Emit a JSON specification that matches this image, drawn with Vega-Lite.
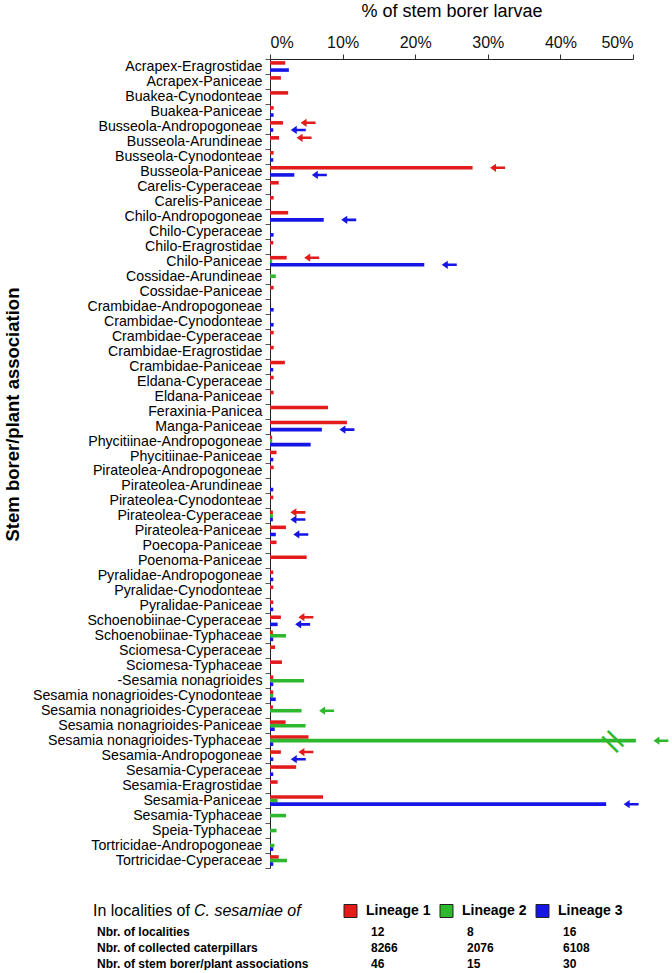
{
  "$schema": "https://vega.github.io/schema/vega-lite/v6.json",
  "padding": {"left": 3, "top": 2, "right": 0, "bottom": 0},
  "bounds": "flush",
  "spacing": 48,
  "config": {"view": {"stroke": null}, "font": "Liberation Sans"},
  "datasets": {
    "bars": [
      {"assoc": "Acrapex-Eragrostidae", "lineage": "Lineage 1", "pct": 2.1},
      {"assoc": "Acrapex-Eragrostidae", "lineage": "Lineage 3", "pct": 2.6},
      {"assoc": "Acrapex-Paniceae", "lineage": "Lineage 1", "pct": 1.5},
      {"assoc": "Buakea-Cynodonteae", "lineage": "Lineage 1", "pct": 2.5},
      {"assoc": "Buakea-Paniceae", "lineage": "Lineage 1", "pct": 0.5},
      {"assoc": "Buakea-Paniceae", "lineage": "Lineage 3", "pct": 0.5},
      {"assoc": "Busseola-Andropogoneae", "lineage": "Lineage 1", "pct": 1.8, "sig": true},
      {"assoc": "Busseola-Andropogoneae", "lineage": "Lineage 3", "pct": 0.45, "sig": true},
      {"assoc": "Busseola-Arundineae", "lineage": "Lineage 1", "pct": 1.25, "sig": true},
      {"assoc": "Busseola-Cynodonteae", "lineage": "Lineage 1", "pct": 0.5},
      {"assoc": "Busseola-Cynodonteae", "lineage": "Lineage 3", "pct": 0.45},
      {"assoc": "Busseola-Paniceae", "lineage": "Lineage 1", "pct": 27.9, "sig": true},
      {"assoc": "Busseola-Paniceae", "lineage": "Lineage 3", "pct": 3.35, "sig": true},
      {"assoc": "Carelis-Cyperaceae", "lineage": "Lineage 1", "pct": 1.2},
      {"assoc": "Carelis-Paniceae", "lineage": "Lineage 1", "pct": 0.5},
      {"assoc": "Chilo-Andropogoneae", "lineage": "Lineage 1", "pct": 2.5},
      {"assoc": "Chilo-Andropogoneae", "lineage": "Lineage 3", "pct": 7.4, "sig": true},
      {"assoc": "Chilo-Cyperaceae", "lineage": "Lineage 3", "pct": 0.5},
      {"assoc": "Chilo-Eragrostidae", "lineage": "Lineage 1", "pct": 0.45},
      {"assoc": "Chilo-Paniceae", "lineage": "Lineage 1", "pct": 2.3, "sig": true},
      {"assoc": "Chilo-Paniceae", "lineage": "Lineage 2", "pct": 0.3},
      {"assoc": "Chilo-Paniceae", "lineage": "Lineage 3", "pct": 21.25, "sig": true},
      {"assoc": "Cossidae-Arundineae", "lineage": "Lineage 2", "pct": 0.8},
      {"assoc": "Cossidae-Paniceae", "lineage": "Lineage 1", "pct": 0.5},
      {"assoc": "Crambidae-Andropogoneae", "lineage": "Lineage 3", "pct": 0.5},
      {"assoc": "Crambidae-Cynodonteae", "lineage": "Lineage 3", "pct": 0.5},
      {"assoc": "Crambidae-Cyperaceae", "lineage": "Lineage 1", "pct": 0.5},
      {"assoc": "Crambidae-Eragrostidae", "lineage": "Lineage 1", "pct": 0.5},
      {"assoc": "Crambidae-Paniceae", "lineage": "Lineage 1", "pct": 2.05},
      {"assoc": "Crambidae-Paniceae", "lineage": "Lineage 3", "pct": 0.45},
      {"assoc": "Eldana-Cyperaceae", "lineage": "Lineage 1", "pct": 0.5},
      {"assoc": "Eldana-Paniceae", "lineage": "Lineage 1", "pct": 0.5},
      {"assoc": "Feraxinia-Panicea", "lineage": "Lineage 1", "pct": 8.0},
      {"assoc": "Manga-Paniceae", "lineage": "Lineage 1", "pct": 10.6},
      {"assoc": "Manga-Paniceae", "lineage": "Lineage 3", "pct": 7.15, "sig": true},
      {"assoc": "Phycitiinae-Andropogoneae", "lineage": "Lineage 1", "pct": 0.3},
      {"assoc": "Phycitiinae-Andropogoneae", "lineage": "Lineage 2", "pct": 0.3},
      {"assoc": "Phycitiinae-Andropogoneae", "lineage": "Lineage 3", "pct": 5.6},
      {"assoc": "Phycitiinae-Paniceae", "lineage": "Lineage 1", "pct": 0.9},
      {"assoc": "Phycitiinae-Paniceae", "lineage": "Lineage 3", "pct": 0.45},
      {"assoc": "Pirateolea-Andropogoneae", "lineage": "Lineage 1", "pct": 0.5},
      {"assoc": "Pirateolea-Arundineae", "lineage": "Lineage 3", "pct": 0.45},
      {"assoc": "Pirateolea-Cynodonteae", "lineage": "Lineage 1", "pct": 0.45},
      {"assoc": "Pirateolea-Cyperaceae", "lineage": "Lineage 1", "pct": 0.4, "sig": true},
      {"assoc": "Pirateolea-Cyperaceae", "lineage": "Lineage 2", "pct": 0.4},
      {"assoc": "Pirateolea-Cyperaceae", "lineage": "Lineage 3", "pct": 0.4, "sig": true},
      {"assoc": "Pirateolea-Paniceae", "lineage": "Lineage 1", "pct": 2.2},
      {"assoc": "Pirateolea-Paniceae", "lineage": "Lineage 3", "pct": 0.8, "sig": true},
      {"assoc": "Poecopa-Paniceae", "lineage": "Lineage 1", "pct": 0.9},
      {"assoc": "Poenoma-Paniceae", "lineage": "Lineage 1", "pct": 5.05},
      {"assoc": "Pyralidae-Andropogoneae", "lineage": "Lineage 1", "pct": 0.45},
      {"assoc": "Pyralidae-Andropogoneae", "lineage": "Lineage 3", "pct": 0.45},
      {"assoc": "Pyralidae-Cynodonteae", "lineage": "Lineage 1", "pct": 0.45},
      {"assoc": "Pyralidae-Paniceae", "lineage": "Lineage 1", "pct": 0.45},
      {"assoc": "Pyralidae-Paniceae", "lineage": "Lineage 3", "pct": 0.45},
      {"assoc": "Schoenobiinae-Cyperaceae", "lineage": "Lineage 1", "pct": 1.5, "sig": true},
      {"assoc": "Schoenobiinae-Cyperaceae", "lineage": "Lineage 3", "pct": 1.05, "sig": true},
      {"assoc": "Schoenobiinae-Typhaceae", "lineage": "Lineage 1", "pct": 0.4},
      {"assoc": "Schoenobiinae-Typhaceae", "lineage": "Lineage 2", "pct": 2.2},
      {"assoc": "Schoenobiinae-Typhaceae", "lineage": "Lineage 3", "pct": 0.45},
      {"assoc": "Sciomesa-Cyperaceae", "lineage": "Lineage 1", "pct": 0.7},
      {"assoc": "Sciomesa-Typhaceae", "lineage": "Lineage 1", "pct": 1.65},
      {"assoc": "-Sesamia nonagrioides", "lineage": "Lineage 1", "pct": 0.45},
      {"assoc": "-Sesamia nonagrioides", "lineage": "Lineage 2", "pct": 4.7},
      {"assoc": "-Sesamia nonagrioides", "lineage": "Lineage 3", "pct": 0.45},
      {"assoc": "Sesamia nonagrioides-Cynodonteae", "lineage": "Lineage 1", "pct": 0.45},
      {"assoc": "Sesamia nonagrioides-Cynodonteae", "lineage": "Lineage 2", "pct": 0.45},
      {"assoc": "Sesamia nonagrioides-Cynodonteae", "lineage": "Lineage 3", "pct": 0.8},
      {"assoc": "Sesamia nonagrioides-Cyperaceae", "lineage": "Lineage 1", "pct": 0.4},
      {"assoc": "Sesamia nonagrioides-Cyperaceae", "lineage": "Lineage 2", "pct": 4.35, "sig": true},
      {"assoc": "Sesamia nonagrioides-Paniceae", "lineage": "Lineage 1", "pct": 2.15},
      {"assoc": "Sesamia nonagrioides-Paniceae", "lineage": "Lineage 2", "pct": 4.9},
      {"assoc": "Sesamia nonagrioides-Paniceae", "lineage": "Lineage 3", "pct": 0.65},
      {"assoc": "Sesamia nonagrioides-Typhaceae", "lineage": "Lineage 1", "pct": 5.3},
      {"assoc": "Sesamia nonagrioides-Typhaceae", "lineage": "Lineage 2", "pct": 50.4, "sig": true, "brk": true},
      {"assoc": "Sesamia nonagrioides-Typhaceae", "lineage": "Lineage 3", "pct": 0.45},
      {"assoc": "Sesamia-Andropogoneae", "lineage": "Lineage 1", "pct": 1.5, "sig": true},
      {"assoc": "Sesamia-Andropogoneae", "lineage": "Lineage 3", "pct": 0.45, "sig": true},
      {"assoc": "Sesamia-Cyperaceae", "lineage": "Lineage 1", "pct": 3.6},
      {"assoc": "Sesamia-Cyperaceae", "lineage": "Lineage 3", "pct": 0.45},
      {"assoc": "Sesamia-Eragrostidae", "lineage": "Lineage 1", "pct": 1.05},
      {"assoc": "Sesamia-Paniceae", "lineage": "Lineage 1", "pct": 7.3},
      {"assoc": "Sesamia-Paniceae", "lineage": "Lineage 2", "pct": 1.05},
      {"assoc": "Sesamia-Paniceae", "lineage": "Lineage 3", "pct": 46.3, "sig": true},
      {"assoc": "Sesamia-Typhaceae", "lineage": "Lineage 2", "pct": 2.2},
      {"assoc": "Speia-Typhaceae", "lineage": "Lineage 2", "pct": 0.9},
      {"assoc": "Tortricidae-Andropogoneae", "lineage": "Lineage 2", "pct": 0.6},
      {"assoc": "Tortricidae-Andropogoneae", "lineage": "Lineage 3", "pct": 0.45},
      {"assoc": "Tortricidae-Cyperaceae", "lineage": "Lineage 1", "pct": 1.2},
      {"assoc": "Tortricidae-Cyperaceae", "lineage": "Lineage 2", "pct": 2.35},
      {"assoc": "Tortricidae-Cyperaceae", "lineage": "Lineage 3", "pct": 0.45}
    ],
    "table": [
      {"row": "head", "col": "label", "text": "In localities of", "kind": "title"},
      {"row": "head", "col": "label", "text": "C. sesamiae of", "kind": "italic"},
      {"row": "head", "col": "Lineage 1", "text": "Lineage 1", "kind": "legend"},
      {"row": "head", "col": "Lineage 2", "text": "Lineage 2", "kind": "legend"},
      {"row": "head", "col": "Lineage 3", "text": "Lineage 3", "kind": "legend"},
      {"row": "Nbr. of localities", "col": "label", "text": "Nbr. of localities", "kind": "rowlabel"},
      {"row": "Nbr. of collected caterpillars", "col": "label", "text": "Nbr. of collected caterpillars", "kind": "rowlabel"},
      {"row": "Nbr. of stem borer/plant associations", "col": "label", "text": "Nbr. of stem borer/plant associations", "kind": "rowlabel"},
      {"row": "Nbr. of localities", "col": "Lineage 1", "text": "12", "kind": "value"},
      {"row": "Nbr. of localities", "col": "Lineage 2", "text": "8", "kind": "value"},
      {"row": "Nbr. of localities", "col": "Lineage 3", "text": "16", "kind": "value"},
      {"row": "Nbr. of collected caterpillars", "col": "Lineage 1", "text": "8266", "kind": "value"},
      {"row": "Nbr. of collected caterpillars", "col": "Lineage 2", "text": "2076", "kind": "value"},
      {"row": "Nbr. of collected caterpillars", "col": "Lineage 3", "text": "6108", "kind": "value"},
      {"row": "Nbr. of stem borer/plant associations", "col": "Lineage 1", "text": "46", "kind": "value"},
      {"row": "Nbr. of stem borer/plant associations", "col": "Lineage 2", "text": "15", "kind": "value"},
      {"row": "Nbr. of stem borer/plant associations", "col": "Lineage 3", "text": "30", "kind": "value"}
    ]
  },
  "vconcat": [
    {
      "width": 363,
      "height": 809,
      "data": {"name": "bars"},
      "encoding": {
        "y": {
          "field": "assoc", "type": "nominal",
          "scale": {"paddingInner": 0, "paddingOuter": 0, "domain": ["Acrapex-Eragrostidae","Acrapex-Paniceae","Buakea-Cynodonteae","Buakea-Paniceae","Busseola-Andropogoneae","Busseola-Arundineae","Busseola-Cynodonteae","Busseola-Paniceae","Carelis-Cyperaceae","Carelis-Paniceae","Chilo-Andropogoneae","Chilo-Cyperaceae","Chilo-Eragrostidae","Chilo-Paniceae","Cossidae-Arundineae","Cossidae-Paniceae","Crambidae-Andropogoneae","Crambidae-Cynodonteae","Crambidae-Cyperaceae","Crambidae-Eragrostidae","Crambidae-Paniceae","Eldana-Cyperaceae","Eldana-Paniceae","Feraxinia-Panicea","Manga-Paniceae","Phycitiinae-Andropogoneae","Phycitiinae-Paniceae","Pirateolea-Andropogoneae","Pirateolea-Arundineae","Pirateolea-Cynodonteae","Pirateolea-Cyperaceae","Pirateolea-Paniceae","Poecopa-Paniceae","Poenoma-Paniceae","Pyralidae-Andropogoneae","Pyralidae-Cynodonteae","Pyralidae-Paniceae","Schoenobiinae-Cyperaceae","Schoenobiinae-Typhaceae","Sciomesa-Cyperaceae","Sciomesa-Typhaceae","-Sesamia nonagrioides","Sesamia nonagrioides-Cynodonteae","Sesamia nonagrioides-Cyperaceae","Sesamia nonagrioides-Paniceae","Sesamia nonagrioides-Typhaceae","Sesamia-Andropogoneae","Sesamia-Cyperaceae","Sesamia-Eragrostidae","Sesamia-Paniceae","Sesamia-Typhaceae","Speia-Typhaceae","Tortricidae-Andropogoneae","Tortricidae-Cyperaceae"]},
          "axis": {
            "title": "Stem borer/plant association", "titleFontSize": 18.5, "titleFontWeight": "bold", "titleColor": "#000",
            "titleX": -248, "titleY": 355,
            "labelFontSize": 14.2, "labelColor": "#000", "labelPadding": 3, "labelLimit": 400,
            "tickBand": "extent", "tickSize": 5, "tickColor": "#555", "domainColor": "#222"
          }
        },
        "yOffset": {"field": "lineage", "type": "nominal", "scale": {"domain": ["Lineage 1", "Lineage 2", "Lineage 3"], "paddingInner": 0, "paddingOuter": 0.6}},
        "x": {
          "field": "pct", "type": "quantitative",
          "scale": {"domain": [0, 50], "nice": false},
          "axis": {
            "orient": "top", "values": [0, 10, 20, 30, 40, 50], "labelExpr": "datum.value + '%'",
            "title": "% of stem borer larvae", "titleFontSize": 18, "titleFontWeight": "normal", "titleColor": "#000", "titlePadding": 14,
            "labelFontSize": 16, "labelColor": "#111", "labelPadding": 4, "tickSize": 5, "tickColor": "#333", "domainColor": "#222", "grid": false
          }
        },
        "color": {"field": "lineage", "type": "nominal", "scale": {"domain": ["Lineage 1", "Lineage 2", "Lineage 3"], "range": ["#e31b1b", "#2db82d", "#1515e6"]}, "legend": null}
      },
      "layer": [
        {"mark": {"type": "bar"}},
        {
          "transform": [{"filter": "datum.sig"}],
          "mark": {"type": "point", "shape": "M -1 0 L -0.2 -0.55 L -0.2 -0.17 L 1 -0.17 L 1 0.17 L -0.2 0.17 L -0.2 0.55 Z", "filled": true, "size": 225, "opacity": 1},
          "encoding": {"xOffset": {"value": 25}}
        },
        {
          "transform": [{"filter": "datum.brk"}],
          "mark": {"type": "text", "text": "||", "align": "center", "baseline": "middle", "angle": -45, "font": "DejaVu Sans", "fontSize": 22, "fontWeight": "bold", "color": "#000"},
          "encoding": {"xOffset": {"value": -24}}
        }
      ]
    },
    {
      "width": 272,
      "height": 48,
      "data": {"name": "table"},
      "encoding": {
        "x": {"field": "col", "type": "nominal", "scale": {"type": "point", "domain": ["label", "Lineage 1", "Lineage 2", "Lineage 3"], "range": [-15.5, 272.5], "padding": 0}, "axis": null},
        "y": {"field": "row", "type": "nominal", "scale": {"type": "point", "domain": ["head", "Nbr. of localities", "Nbr. of collected caterpillars", "Nbr. of stem borer/plant associations"], "padding": 0}, "axis": null}
      },
      "layer": [
        {
          "transform": [{"filter": "datum.kind === 'title'"}],
          "mark": {"type": "text", "align": "left", "baseline": "middle", "dx": -161.5, "dy": -5, "fontSize": 16, "color": "#000"},
          "encoding": {"text": {"field": "text"}}
        },
        {
          "transform": [{"filter": "datum.kind === 'italic'"}],
          "mark": {"type": "text", "align": "left", "baseline": "middle", "dx": -60.5, "dy": -5, "fontSize": 16, "fontStyle": "italic", "color": "#000"},
          "encoding": {"text": {"field": "text"}}
        },
        {
          "transform": [{"filter": "datum.kind === 'legend'"}],
          "mark": {"type": "point", "shape": "square", "filled": true, "size": 169, "stroke": "#222", "strokeWidth": 1, "opacity": 1},
          "encoding": {
            "yOffset": {"value": -5},
            "color": {"field": "col", "type": "nominal", "scale": {"domain": ["Lineage 1", "Lineage 2", "Lineage 3"], "range": ["#ff0000", "#10d010", "#0000ff"]}, "legend": null}
          }
        },
        {
          "transform": [{"filter": "datum.kind === 'legend'"}],
          "mark": {"type": "text", "align": "left", "baseline": "middle", "dx": 15.5, "dy": -5, "fontSize": 14, "fontWeight": "bold", "color": "#000"},
          "encoding": {"text": {"field": "text"}}
        },
        {
          "transform": [{"filter": "datum.kind === 'rowlabel'"}],
          "mark": {"type": "text", "align": "left", "baseline": "middle", "dx": -157.5, "fontSize": 12, "fontWeight": "bold", "color": "#000"},
          "encoding": {"text": {"field": "text"}}
        },
        {
          "transform": [{"filter": "datum.kind === 'value'"}],
          "mark": {"type": "text", "align": "left", "baseline": "middle", "dx": 20.5, "fontSize": 12, "fontWeight": "bold", "color": "#000"},
          "encoding": {"text": {"field": "text"}}
        }
      ]
    }
  ]
}
